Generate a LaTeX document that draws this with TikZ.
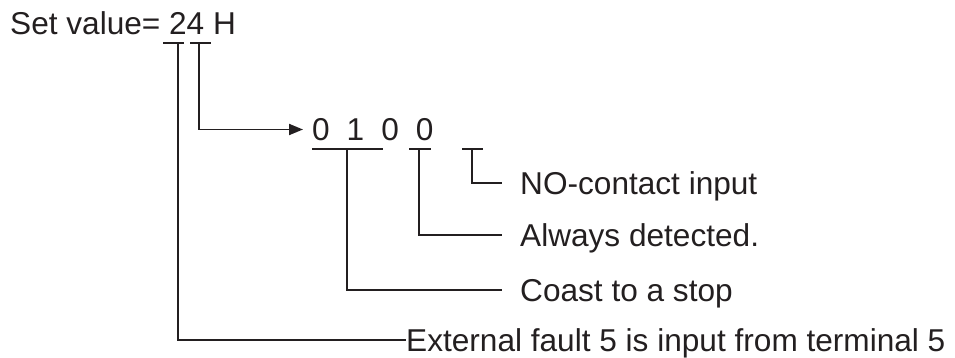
\documentclass[tikz,border=0pt]{standalone}
\usepackage{fontspec}
\setmainfont{Liberation Sans}
\usetikzlibrary{arrows.meta}
\definecolor{inkgray}{RGB}{35,31,32}

\begin{document}
\begin{tikzpicture}[x=1pt,y=-1pt,font=\fontsize{31.6}{38}\selectfont,>={Triangle[length=14pt,width=11pt]},
  wire/.style={draw=inkgray,line width=1.9pt},
  note/.style={text=inkgray,anchor=west,inner xsep=18pt,inner ysep=0pt,text height=23pt,text depth=0pt},
  digits/.style={text=inkgray,anchor=base west,inner ysep=0pt,text height=23pt,text depth=0pt}]
\useasboundingbox (0,0) rectangle (955,358);
% set value and its marks
\node[digits,inner xsep=0pt] (setv) at (10,35) {Set value= 24 H};
\coordinate (m2) at (178,43);
\coordinate (m4) at (199,43);
\draw[wire] (163,43) -- (184,43);
\draw[wire] (190,43) -- (211,43);
% bit pattern
\node[digits,inner xsep=9pt] (bits) at (303,141) {\spaceskip=17pt 0 1 0 0};
\coordinate (b1) at (347,149);
\coordinate (b3) at (419,149);
\coordinate (b4) at (472,149);
\draw[wire] (312,149) -- (383,149);
\draw[wire] (409,149) -- (431,149);
\draw[wire] (462,149) -- (483,149);
% meanings
\node[note] (nocon) at (502,183) {NO-contact input};
\node[note] (always) at (502,235) {Always detected.};
\node[note] (coast) at (502,290) {Coast to a stop};
\node[note,inner xsep=0pt] (ext) at (406,340) {External fault 5 is input from terminal 5};
\draw[wire,->] (m4) |- (bits.west);
\draw[wire] (b4) |- (nocon.west);
\draw[wire] (b3) |- (always.west);
\draw[wire] (b1) |- (coast.west);
\draw[wire] (m2) |- (ext.west);
\end{tikzpicture}
\end{document}
